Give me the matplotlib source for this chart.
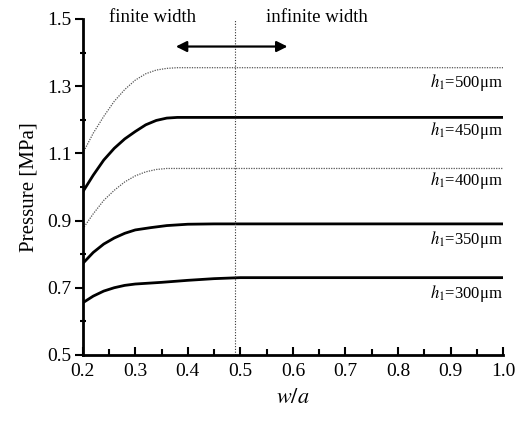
import numpy as np
import matplotlib
matplotlib.use('Agg')
import matplotlib.pyplot as plt

plt.rcParams['font.family'] = ['Liberation Serif', 'DejaVu Serif']
plt.rcParams['mathtext.fontset'] = 'stix'

# Curves: w/a -> pressure [MPa]
x_500 = [0.2, 0.22, 0.24, 0.26, 0.28, 0.30, 0.32, 0.34, 0.36, 0.38, 1.0]
p_500 = [1.10, 1.16, 1.21, 1.255, 1.29, 1.318, 1.337, 1.348, 1.353, 1.355, 1.355]
x_450 = [0.2, 0.22, 0.24, 0.26, 0.28, 0.30, 0.32, 0.34, 0.36, 0.38, 1.0]
p_450 = [0.985, 1.035, 1.08, 1.115, 1.143, 1.165, 1.185, 1.198, 1.205, 1.207, 1.207]
x_400 = [0.2, 0.22, 0.24, 0.26, 0.28, 0.30, 0.32, 0.34, 0.36, 1.0]
p_400 = [0.875, 0.92, 0.96, 0.99, 1.015, 1.033, 1.045, 1.052, 1.055, 1.055]
x_350 = [0.2, 0.22, 0.24, 0.26, 0.28, 0.30, 0.33, 0.36, 0.40, 0.45, 1.0]
p_350 = [0.772, 0.805, 0.83, 0.848, 0.862, 0.872, 0.879, 0.885, 0.889, 0.89, 0.89]
x_300 = [0.2, 0.22, 0.24, 0.26, 0.28, 0.30, 0.35, 0.40, 0.45, 0.50, 1.0]
p_300 = [0.655, 0.675, 0.69, 0.70, 0.707, 0.711, 0.716, 0.722, 0.727, 0.73, 0.73]

labels = ['$h_1$=500μm', '$h_1$=450μm', '$h_1$=400μm', '$h_1$=350μm', '$h_1$=300μm']
label_y = [1.31, 1.168, 1.018, 0.845, 0.682]

fig = plt.figure(figsize=(5.17, 4.22), dpi=100)
ax = fig.add_axes([0.16, 0.159, 0.813, 0.796])

ax.plot(x_500, p_500, color='#555555', lw=0.9, ls=(0, (1, 1)))
ax.plot(x_450, p_450, color='black', lw=2.0)
ax.plot(x_400, p_400, color='#555555', lw=0.9, ls=(0, (1, 1)))
ax.plot(x_350, p_350, color='black', lw=2.0)
ax.plot(x_300, p_300, color='black', lw=2.0)

for lab, yy in zip(labels, label_y):
    ax.text(1.0, yy, lab, ha='right', va='center', fontsize=12)

# finite / infinite width boundary
ax.axvline(0.49, color='#333333', lw=0.8, ls=(0, (1, 1.5)))
ax.annotate('', xy=(0.372, 1.418), xytext=(0.595, 1.418),
            arrowprops=dict(arrowstyle='<|-|>', color='black', lw=1.6,
                            mutation_scale=16))
ax.text(0.333, 1.505, 'finite width', ha='center', va='center', fontsize=13.5)
ax.text(0.645, 1.505, 'infinite width', ha='center', va='center', fontsize=13.5)

ax.set_xlim(0.2, 1.0)
ax.set_ylim(0.5, 1.5)
ax.set_xticks(np.arange(0.2, 1.01, 0.1))
ax.set_xticklabels(['0.2', '0.3', '0.4', '0.5', '0.6', '0.7', '0.8', '0.9', '1.0'])
ax.set_xticks(np.arange(0.25, 1.0, 0.1), minor=True)
ax.set_yticks([0.5, 0.7, 0.9, 1.1, 1.3, 1.5])
ax.set_yticks([0.6, 0.8, 1.0, 1.2, 1.4], minor=True)
ax.tick_params(axis='x', which='major', direction='in', length=6, width=1.5,
               labelsize=14, pad=6)
ax.tick_params(axis='x', which='minor', direction='in', length=4, width=1.5)
ax.tick_params(axis='y', which='major', direction='out', length=6, width=1.5,
               labelsize=14, pad=2)
ax.tick_params(axis='y', which='minor', direction='inout', length=5, width=1.5)

for s in ['top', 'right']:
    ax.spines[s].set_visible(False)
for s in ['left', 'bottom']:
    ax.spines[s].set_linewidth(2.0)

ax.set_xlabel('$w/a$', fontsize=16, labelpad=6)
ax.set_ylabel('Pressure [MPa]', fontsize=15, labelpad=6)

fig.savefig('out.png', dpi=100)
